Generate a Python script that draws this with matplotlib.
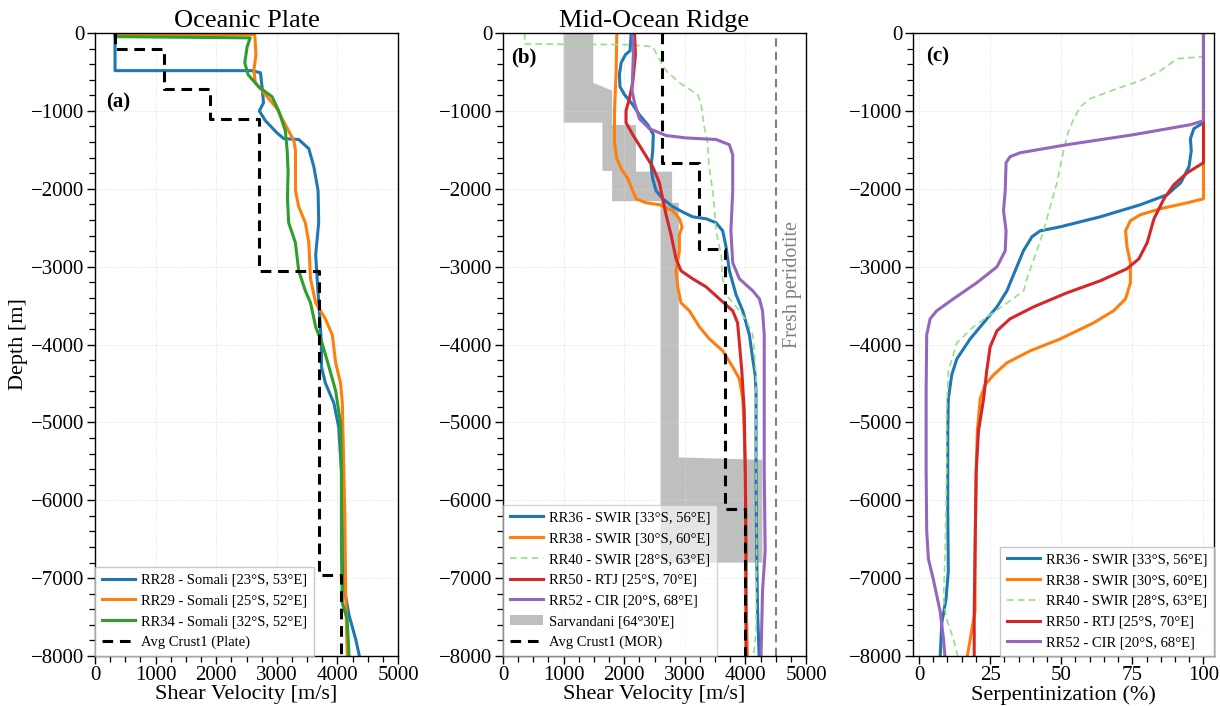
import numpy as np
import matplotlib.pyplot as plt
from matplotlib.patches import Patch
from matplotlib.ticker import MultipleLocator

plt.rcParams['font.family'] = ['Liberation Serif', 'DejaVu Serif']
plt.rcParams['xtick.direction'] = 'out'
plt.rcParams['ytick.direction'] = 'out'

# ---- panel (a): oceanic plate, shear velocity [m/s] vs depth [m]
rr28_v = [330, 330, 2590, 2730, 2755, 2780, 2710, 2810, 3000, 3115, 3360, 3527, 3610, 3680, 3690,
          3640, 3665, 3700, 3735, 3735, 3800, 3940, 4020, 4065, 4080, 4090, 4120, 4190, 4300, 4365]
rr28_d = [0, -483, -483, -510, -690, -895, -1000, -1125, -1280, -1357, -1367, -1485, -1717, -2025, -2436,
          -2848, -3156, -3567, -3979, -4287, -4493, -4750, -5058, -5623, -6137, -6652, -7166, -7474, -7782, -8013]

rr29_v = [330, 330, 2635, 2655, 2620, 2645, 2810, 3000, 3140, 3280, 3307, 3307, 3360, 3470, 3527,
          3555, 3640, 3800, 3915, 3970, 4050, 4080, 4105, 4120, 4135, 4160]
rr29_d = [0, -20, -20, -278, -483, -637, -790, -970, -1177, -1383, -1511, -2025, -2230, -2436, -2693,
          -3156, -3464, -3670, -3876, -4235, -4493, -4750, -5623, -6137, -7166, -7988]

rr34_v = [330, 330, 2560, 2510, 2470, 2525, 2700, 2920, 3030, 3140, 3170, 3185, 3175, 3195, 3306,
          3360, 3470, 3555, 3640, 3745, 3860, 3970, 4050, 4065, 4065, 4080, 4160, 4190]
rr34_d = [0, -46, -62, -175, -380, -535, -690, -817, -1000, -1254, -1511, -1768, -2128, -2436, -2693,
          -3053, -3310, -3464, -3773, -3979, -4287, -4595, -5006, -5623, -6652, -7320, -7525, -7988]

plate_top = [0, -200, -715, -1100, -3060, -6960]
plate_vs = [330, 1130, 1900, 2700, 3690, 4060]

# ---- panel (b): mid-ocean ridge
rr36_v = [2114, 2097, 2020, 1950, 1920, 1930, 2004, 2140, 2250, 2390, 2480, 2470, 2443, 2470, 2525,
          2635, 2800, 2990, 3130, 3350, 3515, 3625, 3680, 3735, 3845, 3955, 4065, 4120, 4160, 4175,
          4175, 4175, 4185, 4200, 4230]
rr36_d = [0, -226, -278, -380, -535, -690, -790, -920, -1050, -1180, -1305, -1510, -1717, -1870, -2025,
          -2128, -2230, -2308, -2360, -2385, -2436, -2540, -2745, -3053, -3360, -3567, -3876, -4184, -4390, -4595,
          -5110, -5623, -6652, -7422, -8090]

rr38_v = [1878, 1867, 1840, 1840, 1878, 1950, 2060, 2140, 2196, 2360, 2580, 2800, 2910, 2955, 2910,
          2910, 2855, 2882, 2937, 3075, 3240, 3405, 3625, 3790, 3900, 3955, 3980, 3997, 4008, 4008, 4035]
rr38_d = [0, -483, -997, -1408, -1614, -1742, -1870, -2025, -2128, -2180, -2205, -2282, -2385, -2488, -2590,
          -2796, -3053, -3259, -3464, -3567, -3773, -3927, -4081, -4287, -4441, -4698, -5110, -5623, -6137, -7166, -8090]

rr40_v = [358, 358, 2085, 2470, 2610, 2690, 2910, 3210, 3265, 3320, 3375, 3400, 3460, 3485, 3515,
          3600, 3625, 3680, 3790, 3900, 4035, 4120, 4145, 4175, 4175, 4185, 4175, 4120]
rr40_d = [0, -140, -149, -175, -380, -483, -637, -790, -895, -1203, -1408, -1717, -2025, -2230, -2540,
          -2848, -3156, -3360, -3464, -3567, -3721, -3876, -4081, -4390, -5623, -6652, -7680, -8090]

rr50_v = [2170, 2185, 2140, 2085, 2030, 2030, 2140, 2305, 2470, 2580, 2635, 2690, 2773, 2855, 2937,
          3130, 3350, 3570, 3790, 3870, 3900, 3940, 3980, 3997, 4008, 4008]
rr50_d = [0, -278, -637, -843, -997, -1151, -1305, -1511, -1717, -1922, -2128, -2333, -2590, -2899, -3053,
          -3156, -3259, -3413, -3567, -3721, -3979, -4338, -4852, -5623, -6652, -8090]

rr52_v = [2140, 2150, 2130, 2170, 2250, 2415, 2690, 3020, 3515, 3735, 3790, 3790, 3760, 3790, 3900,
          4120, 4230, 4282, 4310, 4310, 4310, 4325, 4282, 4255]
rr52_d = [0, -278, -740, -895, -1100, -1228, -1316, -1347, -1367, -1434, -1563, -2025, -2540, -2950, -3156,
          -3310, -3413, -3567, -3876, -4595, -5623, -6652, -7166, -8090]

# Sarvandani range, polygon outline (left edge down, right edge up)
sarv_v = [1000, 1000, 1640, 1640, 1800, 1800, 2600, 2600, 4280, 4280, 2900, 2900, 2790, 2790,
          2195, 2195, 1800, 1800, 1490, 1490]
sarv_d = [0, -1150, -1150, -1770, -1770, -2160, -2160, -6800, -6800, -5480, -5450, -2180, -2180, -1780,
          -1780, -1180, -1180, -740, -640, 0]

mor_top = [0, -1665, -2770, -6110]
mor_vs = [2625, 3240, 3667, 4000]
fresh_peridotite = 4500

# ---- panel (c): serpentinization (%)
s36 = [100, 100, 96.6, 95.4, 95.7, 94.9, 92, 87.2, 77.8, 63.7, 49.7, 42.6, 39.7, 36.7, 33.8, 30.9,
       27.4, 22.7, 18, 13.3, 11.5, 10.3, 10.1, 10.1, 10.3, 9.5, 8, 7.4]
s36_d = [0, -1150, -1228, -1357, -1511, -1717, -1922, -2077, -2205, -2360, -2488, -2540, -2616, -2796, -3053, -3310,
         -3516, -3721, -3927, -4184, -4390, -4698, -5110, -6137, -6908, -7268, -7576, -8039]

s38 = [100, 100, 94.3, 84.9, 77.8, 74.3, 72.6, 73.1, 74.3, 74.3, 72.6, 68.4, 61.4, 49.7, 39.1, 30.9,
       26.2, 23.2, 21.5, 20.5, 20.1, 19.7, 19.7, 18.5, 16.8]
s38_d = [0, -2128, -2180, -2256, -2333, -2410, -2540, -2745, -2950, -3207, -3413, -3567, -3721, -3927, -4081, -4235,
         -4390, -4518, -4698, -5110, -5623, -6652, -7422, -7679, -8039]

s40 = [100, 100, 90.8, 84.9, 77.8, 69.6, 60.2, 56.7, 54.4, 52.6, 50.8, 48.5, 46.1, 43.8, 40.9, 37.9,
       36.8, 32, 25, 19.1, 13.3, 10.3, 9.7, 9.7, 9.2, 8.6, 9.7, 12.1, 13.9]
s40_d = [0, -303, -329, -483, -612, -714, -843, -946, -1100, -1254, -1511, -1922, -2230, -2540, -2848, -3156,
         -3310, -3439, -3618, -3773, -3979, -4338, -4852, -5623, -6652, -7268, -7525, -7782, -8039]

s50 = [100, 100, 94.3, 89.6, 86.1, 82.6, 80.2, 77.3, 73.1, 63.7, 52, 40.3, 32, 27.4, 25, 23.8,
       22.7, 20.9, 20.1, 19.7, 19.4, 19.4]
s50_d = [0, -1665, -1794, -1948, -2128, -2385, -2693, -2899, -3027, -3182, -3336, -3516, -3670, -3824, -4030, -4338,
         -4698, -5110, -5623, -6652, -7422, -8039]

s52 = [100, 100, 95.4, 75.5, 52, 35.6, 32, 30.6, 30.3, 29.7, 30.6, 30.3, 27.4, 20.3, 12.1, 6.2,
       3.9, 2.7, 2.5, 2.5, 2.7, 3.3, 5, 7.4, 8.6, 9.2]
s52_d = [0, -1126, -1177, -1305, -1434, -1537, -1588, -1665, -2025, -2282, -2540, -2796, -3002, -3207, -3413, -3567,
         -3670, -3876, -4595, -5623, -6394, -6754, -7011, -7422, -7782, -8039]

labels_a = ['RR28 - Somali [23°S, 53°E]', 'RR29 - Somali [25°S, 52°E]',
            'RR34 - Somali [32°S, 52°E]', 'Avg Crust1 (Plate)']
labels_b = ['RR36 - SWIR [33°S, 56°E]', 'RR38 - SWIR [30°S, 60°E]', 'RR40 - SWIR [28°S, 63°E]',
            'RR50 - RTJ [25°S, 70°E]', 'RR52 - CIR [20°S, 68°E]', "Sarvandani [64°30'E]", 'Avg Crust1 (MOR)']

C_BLUE, C_ORANGE, C_GREEN, C_RED, C_PURPLE = '#1f77b4', '#ff7f0e', '#2ca02c', '#d62728', '#9467bd'
C_LGREEN = '#98df8a'
LW = 2.2
LEG = dict(fontsize=10.5, borderaxespad=0, fancybox=False, edgecolor='#bbbbbb',
           handlelength=2.3, handletextpad=0.4, borderpad=0.45, labelspacing=0.52)


def steps(tops, vs, bottom=-8000):
    v, d = [], []
    bots = list(tops[1:]) + [bottom]
    for t, b, x in zip(tops, bots, vs):
        v += [x, x]
        d += [t, b]
    return v, d


def style(ax):
    ax.set_ylim(-8000, 0)
    ax.yaxis.set_major_locator(MultipleLocator(1000))
    ax.yaxis.set_minor_locator(MultipleLocator(200))
    ax.grid(True, which='major', color='#d9d9d9', lw=0.6, ls=':')
    ax.tick_params(which='major', length=6, width=1.0, labelsize=15, pad=1.5)
    ax.tick_params(which='minor', length=4.5, width=0.9)
    for s in ax.spines.values():
        s.set_linewidth(1.0)


fig = plt.figure(figsize=(12.2, 7.06), dpi=100)
ax1 = fig.add_axes([0.0779, 0.0708, 0.2484, 0.8824])
ax2 = fig.add_axes([0.4123, 0.0708, 0.2484, 0.8824])
ax3 = fig.add_axes([0.7484, 0.0708, 0.2467, 0.8824])

# (a)
ax1.plot(rr28_v, rr28_d, color=C_BLUE, lw=LW, label=labels_a[0])
ax1.plot(rr29_v, rr29_d, color=C_ORANGE, lw=LW, label=labels_a[1])
ax1.plot(rr34_v, rr34_d, color=C_GREEN, lw=LW, label=labels_a[2])
pv, pd_ = steps(plate_top, plate_vs)
ax1.plot(pv, pd_, color='black', lw=LW, ls=(0, (3.5, 2.2)), label=labels_a[3])
ax1.set_xlim(0, 5000)
ax1.xaxis.set_major_locator(MultipleLocator(1000))
ax1.xaxis.set_minor_locator(MultipleLocator(250))
style(ax1)
ax1.set_title('Oceanic Plate', fontsize=19, pad=4)
ax1.set_xlabel('Shear Velocity [m/s]', fontsize=16, labelpad=0)
ax1.set_ylabel('Depth [m]', fontsize=16, labelpad=2)
ax1.text(0.036, 0.888, '(a)', transform=ax1.transAxes, fontsize=15, fontweight='bold',
         va='center', ha='left')
ax1.legend(loc='lower left', framealpha=0.8, **LEG)

# (b)
ax2.fill(sarv_v, sarv_d, color='#bfbfbf', lw=0, zorder=1)
ax2.axvline(fresh_peridotite, color='gray', lw=1.5, ls=(0, (4, 2.5)), zorder=2)
ax2.text(4780, -3235, 'Fresh peridotite', rotation=90, color='gray', fontsize=14.5,
         ha='center', va='center')
h36, = ax2.plot(rr36_v, rr36_d, color=C_BLUE, lw=LW)
h38, = ax2.plot(rr38_v, rr38_d, color=C_ORANGE, lw=LW)
h40, = ax2.plot(rr40_v, rr40_d, color=C_LGREEN, lw=1.2, ls=(0, (4, 2.5)))
h50, = ax2.plot(rr50_v, rr50_d, color=C_RED, lw=LW)
h52, = ax2.plot(rr52_v, rr52_d, color=C_PURPLE, lw=LW)
mv, md = steps(mor_top, mor_vs)
hm, = ax2.plot(mv, md, color='black', lw=LW, ls=(0, (3.5, 2.2)))
hs = Patch(facecolor='#bfbfbf', edgecolor='none')
ax2.set_xlim(0, 5000)
ax2.xaxis.set_major_locator(MultipleLocator(1000))
ax2.xaxis.set_minor_locator(MultipleLocator(250))
style(ax2)
ax2.set_title('Mid-Ocean Ridge', fontsize=19, pad=4)
ax2.set_xlabel('Shear Velocity [m/s]', fontsize=16, labelpad=0)
ax2.text(0.026, 0.96, '(b)', transform=ax2.transAxes, fontsize=15, fontweight='bold',
         va='center', ha='left')
ax2.legend([h36, h38, h40, h50, h52, hs, hm], labels_b, loc='lower left', framealpha=0.6, **LEG)

# (c)
ax3.plot(s36, s36_d, color=C_BLUE, lw=LW, label=labels_b[0])
ax3.plot(s38, s38_d, color=C_ORANGE, lw=LW, label=labels_b[1])
ax3.plot(s40, s40_d, color=C_LGREEN, lw=1.2, ls=(0, (4, 2.5)), label=labels_b[2])
ax3.plot(s50, s50_d, color=C_RED, lw=LW, label=labels_b[3])
ax3.plot(s52, s52_d, color=C_PURPLE, lw=LW, label=labels_b[4])
ax3.set_xlim(-2.1, 103.7)
ax3.set_xticks([0, 25, 50, 75, 100])
ax3.xaxis.set_minor_locator(MultipleLocator(5))
style(ax3)
ax3.set_xlabel('Serpentinization (%)', fontsize=16, labelpad=0)
ax3.text(0.043, 0.963, '(c)', transform=ax3.transAxes, fontsize=15, fontweight='bold',
         va='center', ha='left')
ax3.legend(loc='lower right', framealpha=0.8, **LEG)

fig.savefig('out.png', dpi=100)
